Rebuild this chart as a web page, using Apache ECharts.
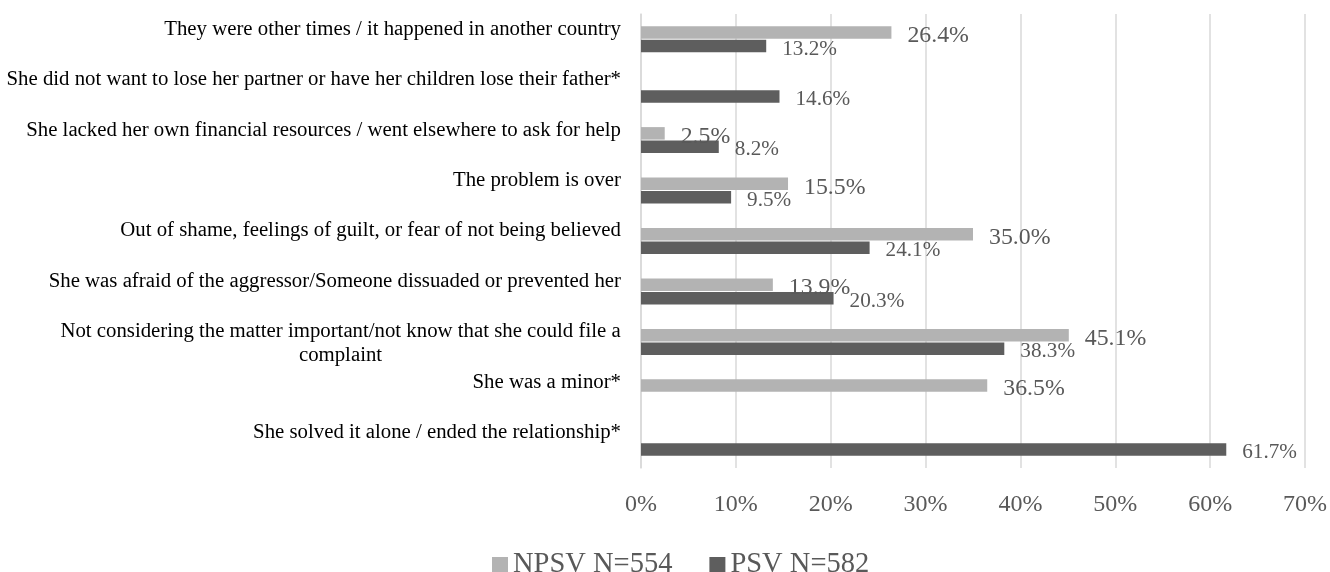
<!DOCTYPE html>
<html>
<head>
<meta charset="utf-8">
<script src="https://cdn.jsdelivr.net/npm/echarts@6/dist/echarts.min.js"></script>
<style>
  html, body { margin: 0; padding: 0; background: #ffffff; }
  #chart { width: 1330px; height: 572px; }
</style>
</head>
<body>
<div id="chart"></div>
<script>
const categories = [
  "They were other times / it happened in another country",
  "She did not want to lose her partner or have her children lose their father*",
  "She lacked her own financial resources / went elsewhere to ask for help",
  "The problem is over",
  "Out of shame, feelings of guilt, or fear of not being believed",
  "She was afraid of the aggressor/Someone dissuaded or prevented her",
  "Not considering the matter important/not know that she could file a\ncomplaint",
  "She was a minor*",
  "She solved it alone / ended the relationship*"
];
const seriesNames = ["NPSV N=554", "PSV N=582"];
const npsvValues = [26.4, null, 2.5, 15.5, 35.0, 13.9, 45.1, 36.5, null];
const psvValues = [13.2, 14.6, 8.2, 9.5, 24.1, 20.3, 38.3, null, 61.7];
const xTicks = { min: 0, max: 70, interval: 10 };

const FONT = "'Liberation Serif', 'Times New Roman', serif";
const CAT_FONT_SIZE = 20.8;
const GRAY_TEXT = "#595959";
const LIGHT = "#b3b3b3";
const DARK = "#5e5e5e";

// measure text width so multi-line category labels can be centred as a block
const measureCtx = document.createElement('canvas').getContext('2d');
measureCtx.font = CAT_FONT_SIZE + "px 'Liberation Serif'";
function textWidth(s) { return Math.ceil(measureCtx.measureText(s).width); }

const catRich = {
  s: { fontFamily: FONT, fontSize: CAT_FONT_SIZE, lineHeight: 24, color: '#000000', align: 'right' },
  m: { fontFamily: FONT, fontSize: CAT_FONT_SIZE, lineHeight: 24, color: '#000000', align: 'center', width: 560 }
};
categories.forEach(function (c) {
  if (c.indexOf('\n') >= 0) catRich.m.width = Math.max.apply(null, c.split('\n').map(textWidth));
});
function catLabel(v) {
  const lines = v.split('\n');
  if (lines.length === 1) return '{s|' + v + '}\n{s|\u00a0}';
  return lines.map(function (l) { return '{m|' + l + '}'; }).join('\n');
}

const chart = echarts.init(document.getElementById('chart'), null, { renderer: 'canvas' });

function pct(p) { return p.value == null ? '' : Number(p.value).toFixed(1) + '%'; }

chart.setOption({
  animation: false,
  backgroundColor: '#ffffff',
  grid: { left: 641, right: 23, top: 14, bottom: 104, containLabel: false },
  legend: {
    left: 487,
    top: 545,
    itemWidth: 16,
    itemHeight: 16,
    itemGap: 37,
    icon: 'rect',
    textStyle: { fontFamily: FONT, fontSize: 28.5, color: GRAY_TEXT, lineHeight: 30 },
    data: seriesNames
  },
  xAxis: {
    type: 'value',
    min: xTicks.min,
    max: xTicks.max,
    interval: xTicks.interval,
    axisLine: { show: false },
    axisTick: { show: false },
    splitLine: { show: true, lineStyle: { color: '#d9d9d9', width: 1.5 } },
    axisLabel: {
      formatter: '{value}%',
      fontFamily: FONT,
      fontSize: 24,
      lineHeight: 24,
      color: GRAY_TEXT,
      margin: 25,
      showMinLabel: true,
      showMaxLabel: true,
      hideOverlap: false
    }
  },
  yAxis: {
    type: 'category',
    inverse: true,
    data: categories,
    axisLine: { show: true, lineStyle: { color: '#d9d9d9', width: 1.5 } },
    axisTick: { show: false },
    axisLabel: {
      interval: 0,
      showMinLabel: true,
      showMaxLabel: true,
      hideOverlap: false,
      fontFamily: FONT,
      fontSize: CAT_FONT_SIZE,
      lineHeight: 24,
      color: '#000000',
      margin: 20,
      align: 'right',
      padding: [4, 0, 0, 0],
      formatter: catLabel,
      rich: catRich
    }
  },
  series: [
    {
      name: seriesNames[0],
      type: 'bar',
      data: npsvValues,
      barWidth: 12.5,
      barGap: '8%',
      itemStyle: { color: LIGHT },
      label: {
        show: true,
        position: 'right',
        distance: 16,
        offset: [0, 3.5],
        fontFamily: FONT,
        fontSize: 23.8,
        color: GRAY_TEXT,
        formatter: pct
      }
    },
    {
      name: seriesNames[1],
      type: 'bar',
      data: psvValues,
      barWidth: 12.5,
      barGap: '8%',
      itemStyle: { color: DARK },
      label: {
        show: true,
        position: 'right',
        distance: 16,
        offset: [0, 3],
        fontFamily: FONT,
        fontSize: 21.2,
        color: GRAY_TEXT,
        formatter: pct
      }
    }
  ]
});
</script>
</body>
</html>
